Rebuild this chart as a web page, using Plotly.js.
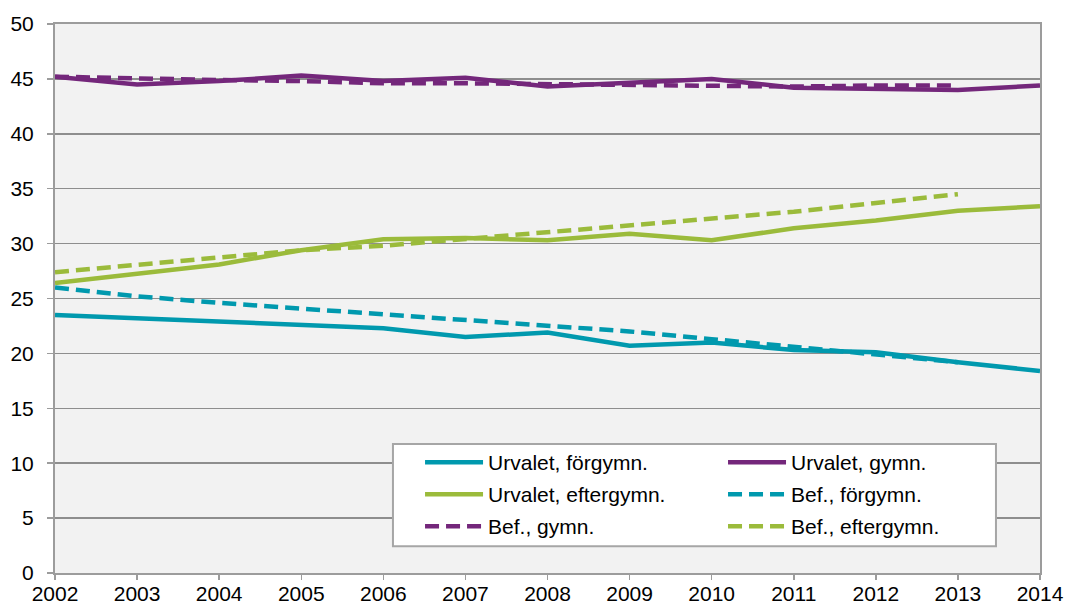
<!DOCTYPE html>
<html>
<head>
<meta charset="utf-8">
<script src="https://cdn.plot.ly/plotly-3.0.1.min.js"></script>
<style>
html,body{margin:0;padding:0;background:#fff;}
#chart{width:1067px;height:608px;}
</style>
</head>
<body>
<div id="chart"></div>
<script>
const years = [2002,2003,2004,2005,2006,2007,2008,2009,2010,2011,2012,2013,2014];
const yearsBef = [2002,2003,2004,2005,2006,2007,2008,2009,2010,2011,2012,2013];

const urvaletForgymn   = [23.5,23.2,22.9,22.5,22.3,21.5,21.9,20.7,21.0,20.3,20.1,19.2,18.4];
const urvaletGymn      = [45.2,44.5,44.8,45.3,44.8,45.1,44.3,44.6,45.0,44.2,44.1,44.0,44.4];
const urvaletEftergymn = [26.4,27.3,28.1,29.4,30.4,30.5,30.3,30.9,30.3,31.4,32.1,33.0,33.4];
const befForgymn       = [26.0,25.2,24.6,24.1,23.6,23.1,22.6,22.0,21.3,20.6,19.9,19.2];
const befGymn          = [45.2,45.0,44.9,44.8,44.6,44.6,44.5,44.4,44.3,44.3,44.4,44.4];
const befEftergymn     = [27.4,28.1,28.8,29.4,29.8,30.4,31.0,31.6,32.3,32.9,33.7,34.5];

const names = ['Urvalet, förgymn.','Urvalet, gymn.','Urvalet, eftergymn.','Bef., förgymn.','Bef., gymn.','Bef., eftergymn.'];

const TEAL = '#0099AE', PURPLE = '#74277B', GREEN = '#9BBB3B';
const DASH = '14px,7px';
const LW = 4.5;

function tr(x, y, name, color, dash, legend, group) {
  return {
    x: x, y: y, name: name, type: 'scatter', mode: 'lines',
    line: {color: color, width: LW, dash: dash},
    legend: legend, legendgroup: group, hoverinfo: 'x+y+name'
  };
}

const data = [
  tr(years, urvaletForgymn, names[0], TEAL, 'solid', 'legend', 'a1'),
  tr(years, urvaletGymn, names[1], PURPLE, 'solid', 'legend2', 'b1'),
  tr(years, urvaletEftergymn, names[2], GREEN, 'solid', 'legend', 'a2'),
  tr(yearsBef, befForgymn, names[3], TEAL, DASH, 'legend2', 'b2'),
  tr(yearsBef, befGymn, names[4], PURPLE, DASH, 'legend', 'a3'),
  tr(yearsBef, befEftergymn, names[5], GREEN, DASH, 'legend2', 'b3')
];

const FONT = 'Liberation Sans, Arial, sans-serif';
const legendFont = {family: FONT, size: 21, color: '#000'};
const legendBase = {
  font: legendFont, bgcolor: 'rgba(0,0,0,0)', borderwidth: 0,
  tracegroupgap: 1.7, itemwidth: 58, xanchor: 'left', yanchor: 'top', traceorder: 'grouped'
};

const layout = {
  width: 1067, height: 608,
  margin: {l: 55, r: 27, t: 24, b: 35},
  paper_bgcolor: '#ffffff',
  plot_bgcolor: '#F2F2F2',
  font: {family: FONT, size: 21, color: '#000'},
  showlegend: true,
  xaxis: {
    range: [2002, 2014], dtick: 1, tick0: 2002,
    showgrid: false, zeroline: false,
    showline: true, mirror: true, linecolor: '#9C9C9C', linewidth: 2,
    ticks: 'outside', ticklen: 5, tickwidth: 1.5, tickcolor: '#9C9C9C',
    ticklabelstandoff: -4,
    tickfont: {family: FONT, size: 21, color: '#000'}, fixedrange: true
  },
  yaxis: {
    range: [0, 50], dtick: 5, tick0: 0,
    showgrid: true, gridcolor: '#8E8E8E', gridwidth: 1.5,
    zeroline: false,
    showline: true, mirror: true, linecolor: '#9C9C9C', linewidth: 2,
    ticks: 'outside', ticklen: 6, tickwidth: 1.5, tickcolor: '#9C9C9C',
    ticklabelstandoff: 9,
    tickfont: {family: FONT, size: 21, color: '#000'}, fixedrange: true
  },
  legend: Object.assign({}, legendBase, {x: 0.3706, y: 0.2385}),
  legend2: Object.assign({}, legendBase, {x: 0.6782, y: 0.2385}),
  shapes: [{
    type: 'rect', xref: 'paper', yref: 'paper', layer: 'above',
    x0: 0.3431, x1: 0.9553, y0: 0.0487, y1: 0.2349,
    fillcolor: '#ffffff', line: {color: '#A6A6A6', width: 2}
  }]
};

Plotly.newPlot('chart', data, layout, {displayModeBar: false, staticPlot: true});
</script>
</body>
</html>
